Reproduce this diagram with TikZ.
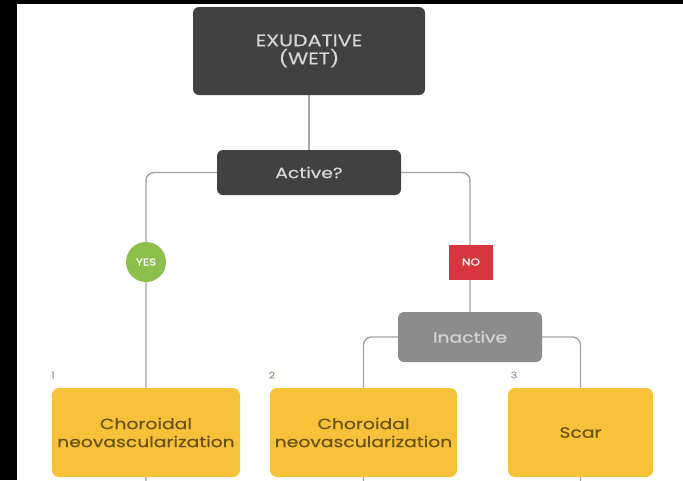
\documentclass[tikz,border=0pt]{standalone}
\usepackage{fontspec}
\setmainfont{Poppins}[FakeStretch=1.25, FakeBold=0.4]
\newfontfamily\tagfont{Poppins}[FakeStretch=1.2, FakeBold=0.8]
\definecolor{darkbox}{HTML}{414141}
\definecolor{graybox}{HTML}{8C8C8C}
\definecolor{yellowbox}{HTML}{F7C23A}
\definecolor{yestag}{HTML}{8DBF4B}
\definecolor{notag}{HTML}{D8363E}
\definecolor{connline}{HTML}{A3A3A3}
\definecolor{darktext}{HTML}{D6D6D6}
\definecolor{yeltext}{HTML}{6A5212}
\definecolor{numtext}{HTML}{8E9DBD}
\pgfdeclarelayer{background}
\pgfdeclarelayer{canvas}
\pgfsetlayers{canvas,background,main}
\begin{document}
\begin{tikzpicture}[x=1pt,y=-1pt,
  dbox/.style={fill=darkbox, rounded corners=6pt, text=darktext, align=center, font=\fontsize{15}{18}\selectfont, inner sep=0pt},
  gbox/.style={fill=graybox, rounded corners=6pt, text=darktext, align=center, font=\fontsize{15}{18}\selectfont, inner sep=0pt},
  ybox/.style={fill=yellowbox, rounded corners=7pt, text=yeltext, align=center, font=\fontsize{15}{18}\selectfont, inner sep=0pt, minimum height=89pt},
  conn/.style={draw=connline, line width=1.4pt, rounded corners=8pt},
  numlabel/.style={text=numtext, font=\fontsize{9}{11}\selectfont, inner sep=0pt},
  tagtext/.style={text=white, font=\tagfont\fontsize{10}{12}\selectfont, inner sep=0pt}]
\useasboundingbox (0,0) rectangle (683,480);
\begin{pgfonlayer}{canvas}
\fill[white] (0,0) rectangle (683,480);
\fill[black] (0,0) rectangle (17,480);
\fill[black] (0,0) rectangle (683,4);
\end{pgfonlayer}

\node[dbox, minimum width=232pt, minimum height=88pt, font=\fontsize{16.5}{18}\selectfont] (exu) at (309,51) {EXUDATIVE\\(WET)};
\node[dbox, minimum width=184pt, minimum height=45pt] (active) at (309,172.5) {Active?};
\node[gbox, minimum width=144pt, minimum height=50pt] (inactive) at (470,337) {Inactive};
\node[ybox, minimum width=188pt] (c1) at (146,432.5) {Choroidal\\neovascularization};
\node[ybox, minimum width=187pt] (c2) at (363.5,432.5) {Choroidal\\neovascularization};
\node[ybox, minimum width=145pt] (scar) at (580.5,432.5) {Scar};

\node[numlabel] (n1) at (53,375) {1};
\node[numlabel] (n2) at (272,375) {2};
\node[numlabel] (n3) at (514,375) {3};

\begin{pgfonlayer}{background}
\draw[conn] (exu.south) -- (active.north);
\draw[conn] (active.west) -| (c1.south) -- ++(0,6);
\draw[conn] (active.east) -| (inactive.north);
\draw[conn] (inactive.west) -| (c2.south) -- ++(0,6);
\draw[conn] (inactive.east) -| (scar.south) -- ++(0,6);
\end{pgfonlayer}

\node[circle, fill=yestag, minimum size=40pt, tagtext] (yes) at (146,262) {YES};
\node[fill=notag, minimum width=44pt, minimum height=35pt, tagtext] (no) at (471,262) {NO};
\end{tikzpicture}
\end{document}
